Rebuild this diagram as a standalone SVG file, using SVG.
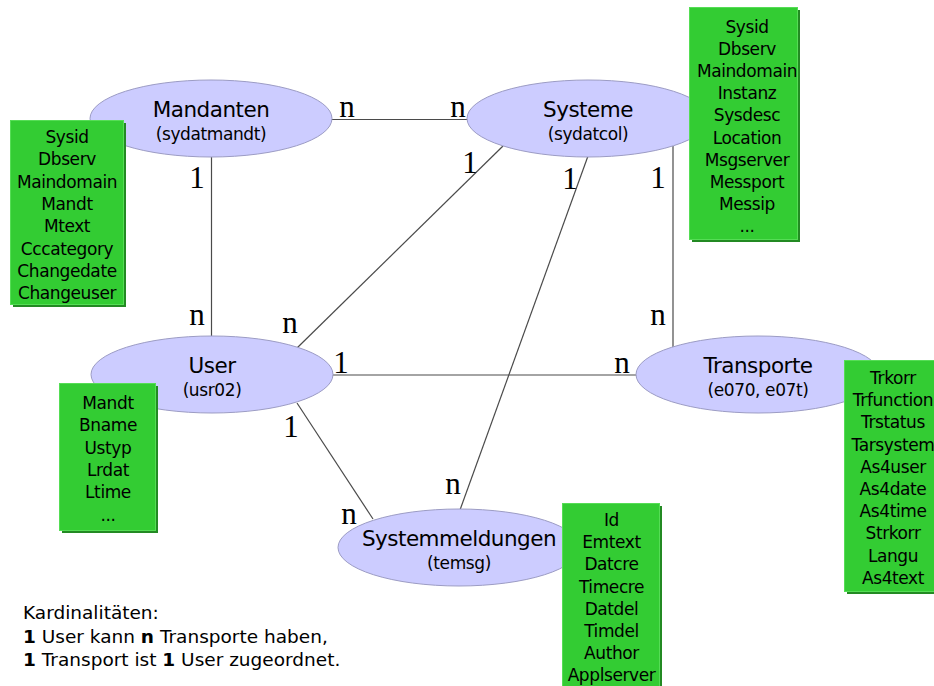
<svg xmlns="http://www.w3.org/2000/svg" width="934" height="686" viewBox="0 0 934 686">
  <style>
    .edge { stroke: #4a4a4a; stroke-width: 1.2; fill: none; }
    .card { font-family: "Liberation Serif", "Times New Roman", serif; font-size: 31px; fill: #000; text-anchor: middle; }
    .entity { fill: #ccccff; stroke: #9c9cc4; stroke-width: 1; }
    .title { font-family: "DejaVu Sans", Verdana, sans-serif; font-size: 21.5px; letter-spacing: -0.5px; fill: #000; text-anchor: middle; }
    .sub { font-family: "DejaVu Sans", Verdana, sans-serif; font-size: 17px; letter-spacing: -0.4px; fill: #000; text-anchor: middle; }
    .attr-shadow { fill: #238a23; }
    .attr-box { fill: #33cc33; stroke: #55dd55; stroke-width: 1; }
    .attr { font-family: "DejaVu Sans", Verdana, sans-serif; font-size: 17px; letter-spacing: -0.4px; fill: #000; text-anchor: middle; }
    .note { font-family: "DejaVu Sans", Verdana, sans-serif; font-size: 18.5px; fill: #000; }
  </style>

  <!-- relationships -->
  <g id="connectors">
    <line class="edge" x1="330" y1="119.5" x2="469" y2="119.5"/>
    <line class="edge" x1="211.5" y1="156" x2="211.5" y2="337"/>
    <line class="edge" x1="297" y1="348" x2="503" y2="146"/>
    <line class="edge" x1="330" y1="375" x2="638" y2="375"/>
    <line class="edge" x1="588" y1="156" x2="460" y2="510"/>
    <line class="edge" x1="673" y1="146" x2="673" y2="348"/>
    <line class="edge" x1="297" y1="403" x2="373" y2="519"/>

    <text class="card" x="347" y="117">n</text>
    <text class="card" x="458" y="117">n</text>
    <text class="card" x="197" y="188">1</text>
    <text class="card" x="197" y="325">n</text>
    <text class="card" x="290" y="333">n</text>
    <text class="card" x="470" y="173">1</text>
    <text class="card" x="341" y="373">1</text>
    <text class="card" x="622" y="373">n</text>
    <text class="card" x="570" y="189">1</text>
    <text class="card" x="453" y="494">n</text>
    <text class="card" x="658" y="188">1</text>
    <text class="card" x="658" y="325">n</text>
    <text class="card" x="291" y="437">1</text>
    <text class="card" x="349" y="524">n</text>
  </g>

  <!-- entities -->
  <g id="mandanten">
    <ellipse class="entity" cx="211" cy="118.5" rx="121" ry="38.5"/>
    <text class="title" x="211" y="117">Mandanten</text>
    <text class="sub" x="211" y="140">(sydatmandt)</text>
  </g>
  <g id="systeme">
    <ellipse class="entity" cx="588" cy="118.5" rx="121" ry="38.5"/>
    <text class="title" x="588" y="117">Systeme</text>
    <text class="sub" x="588" y="140">(sydatcol)</text>
  </g>
  <g id="user">
    <ellipse class="entity" cx="212" cy="374.5" rx="121" ry="38.5"/>
    <text class="title" x="212" y="373">User</text>
    <text class="sub" x="212" y="396">(usr02)</text>
  </g>
  <g id="transporte">
    <ellipse class="entity" cx="758" cy="374.5" rx="122" ry="38.5"/>
    <text class="title" x="758" y="373">Transporte</text>
    <text class="sub" x="758" y="396">(e070, e07t)</text>
  </g>
  <g id="systemmeldungen">
    <ellipse class="entity" cx="459" cy="547.5" rx="121" ry="38.5"/>
    <text class="title" x="459" y="546">Systemmeldungen</text>
    <text class="sub" x="459" y="569">(temsg)</text>
  </g>

  <!-- attribute lists -->
  <g id="mandanten-attrs">
    <rect class="attr-shadow" x="13" y="123" width="113" height="184"/>
    <rect class="attr-box" x="10.5" y="120.5" width="113" height="184"/>
    <text class="attr" x="67" y="143">Sysid</text>
    <text class="attr" x="67" y="165.3">Dbserv</text>
    <text class="attr" x="67" y="187.6">Maindomain</text>
    <text class="attr" x="67" y="209.9">Mandt</text>
    <text class="attr" x="67" y="232.2">Mtext</text>
    <text class="attr" x="67" y="254.5">Cccategory</text>
    <text class="attr" x="67" y="276.8">Changedate</text>
    <text class="attr" x="67" y="299.1">Changeuser</text>
  </g>
  <g id="systeme-attrs">
    <rect class="attr-shadow" x="692" y="10" width="108" height="232"/>
    <rect class="attr-box" x="689.5" y="7.5" width="108" height="232"/>
    <text class="attr" x="747" y="32.5">Sysid</text>
    <text class="attr" x="747" y="54.7">Dbserv</text>
    <text class="attr" x="747" y="76.9">Maindomain</text>
    <text class="attr" x="747" y="99.1">Instanz</text>
    <text class="attr" x="747" y="121.3">Sysdesc</text>
    <text class="attr" x="747" y="143.5">Location</text>
    <text class="attr" x="747" y="165.7">Msgserver</text>
    <text class="attr" x="747" y="187.9">Messport</text>
    <text class="attr" x="747" y="210.1">Messip</text>
    <text class="attr" x="747" y="232.3">...</text>
  </g>
  <g id="user-attrs">
    <rect class="attr-shadow" x="62" y="386" width="96" height="147"/>
    <rect class="attr-box" x="59.5" y="383.5" width="96" height="147"/>
    <text class="attr" x="108" y="409">Mandt</text>
    <text class="attr" x="108" y="431.3">Bname</text>
    <text class="attr" x="108" y="453.6">Ustyp</text>
    <text class="attr" x="108" y="475.9">Lrdat</text>
    <text class="attr" x="108" y="498.2">Ltime</text>
    <text class="attr" x="108" y="520.5">...</text>
  </g>
  <g id="transporte-attrs">
    <rect class="attr-shadow" x="847" y="363" width="96" height="231"/>
    <rect class="attr-box" x="844.5" y="360.5" width="96" height="231"/>
    <text class="attr" x="893" y="384">Trkorr</text>
    <text class="attr" x="893" y="406.2">Trfunction</text>
    <text class="attr" x="893" y="428.4">Trstatus</text>
    <text class="attr" x="893" y="450.6">Tarsystem</text>
    <text class="attr" x="893" y="472.8">As4user</text>
    <text class="attr" x="893" y="495">As4date</text>
    <text class="attr" x="893" y="517.2">As4time</text>
    <text class="attr" x="893" y="539.4">Strkorr</text>
    <text class="attr" x="893" y="561.6">Langu</text>
    <text class="attr" x="893" y="583.8">As4text</text>
  </g>
  <g id="systemmeldungen-attrs">
    <rect class="attr-shadow" x="565" y="506" width="97" height="190"/>
    <rect class="attr-box" x="562.5" y="503.5" width="97" height="190"/>
    <text class="attr" x="611.5" y="526">Id</text>
    <text class="attr" x="611.5" y="548.2">Emtext</text>
    <text class="attr" x="611.5" y="570.4">Datcre</text>
    <text class="attr" x="611.5" y="592.6">Timecre</text>
    <text class="attr" x="611.5" y="614.8">Datdel</text>
    <text class="attr" x="611.5" y="637">Timdel</text>
    <text class="attr" x="611.5" y="659.2">Author</text>
    <text class="attr" x="611.5" y="681.4">Applserver</text>
  </g>

  <!-- legend -->
  <g id="legend">
    <text class="note" x="23" y="619">Kardinalitäten:</text>
    <text class="note" x="23" y="643"><tspan font-weight="bold">1</tspan> User kann <tspan font-weight="bold">n</tspan> Transporte haben,</text>
    <text class="note" x="23" y="666"><tspan font-weight="bold">1</tspan> Transport ist <tspan font-weight="bold">1</tspan> User zugeordnet.</text>
  </g>
</svg>
